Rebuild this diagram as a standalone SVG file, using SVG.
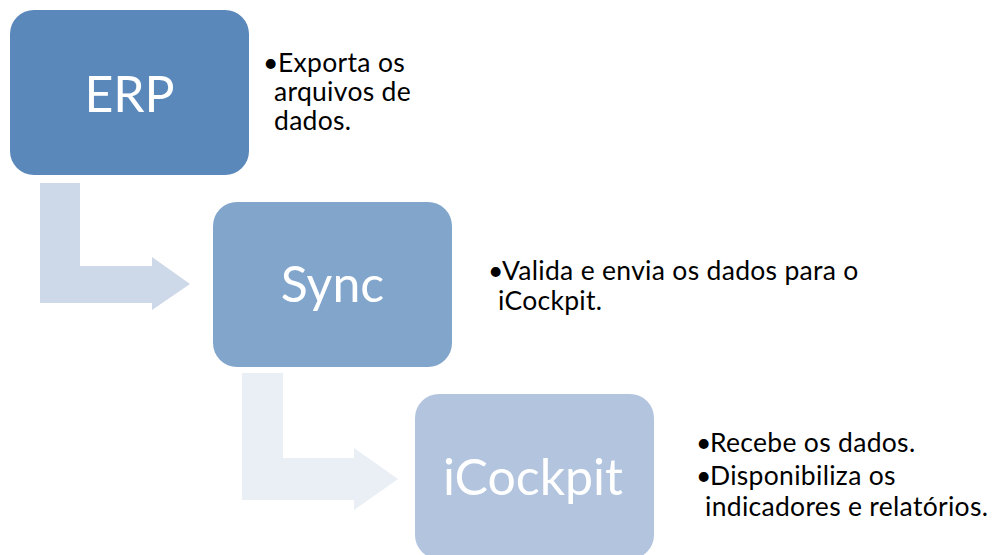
<svg xmlns="http://www.w3.org/2000/svg" width="996" height="555" viewBox="0 0 996 555">
<style>
.box{stroke:none}
.lbl{font-family:Lato,"Open Sans","Liberation Sans",sans-serif;fill:#ffffff;text-anchor:middle;font-size:50px}
.txt{font-family:Lato,"Open Sans","Liberation Sans",sans-serif;fill:#000000;font-size:26.5px;letter-spacing:0.3px}
</style>
<rect width="996" height="555" fill="#ffffff"/>
<g id="connectors">
<polygon id="arrow1" fill="#CDD8E8" points="40,183 80,183 80,266 152,266 152,257 190,284 152,310 152,303 40,303"/>
<polygon id="arrow2" fill="#EAEEF5" points="242,373 283,373 283,458 354,458 354,448 398,479 354,510 354,500 242,500"/>
</g>
<g id="node-erp">
<rect class="box" x="10" y="10" width="239" height="165" rx="24" fill="#5A88BB"/>
<text class="lbl" x="129.5" y="112">ERP</text>
</g>
<g id="node-sync">
<rect class="box" x="213" y="202" width="239" height="165" rx="24" fill="#82A5CC"/>
<text class="lbl" x="332.5" y="302">Sync</text>
</g>
<g id="node-icockpit">
<rect class="box" x="415" y="394" width="239" height="165" rx="24" fill="#B2C4DE"/>
<text class="lbl" x="533" y="495">iCockpit</text>
</g>
<g id="desc-erp">
<text class="txt" y="72"><tspan x="263">•</tspan><tspan x="278">Exporta os</tspan></text>
<text class="txt" x="274" y="101">arquivos de</text>
<text class="txt" x="274" y="130">dados.</text>
</g>
<g id="desc-sync">
<text class="txt" y="280"><tspan x="488">•</tspan><tspan x="502">Valida e envia os dados para o</tspan></text>
<text class="txt" x="498" y="309.5">iCockpit.</text>
</g>
<g id="desc-icockpit">
<text class="txt" y="452"><tspan x="696">•</tspan><tspan x="710">Recebe os dados.</tspan></text>
<text class="txt" y="485"><tspan x="696">•</tspan><tspan x="710">Disponibiliza os</tspan></text>
<text class="txt" x="705" y="516">indicadores e relatórios.</text>
</g>
</svg>
